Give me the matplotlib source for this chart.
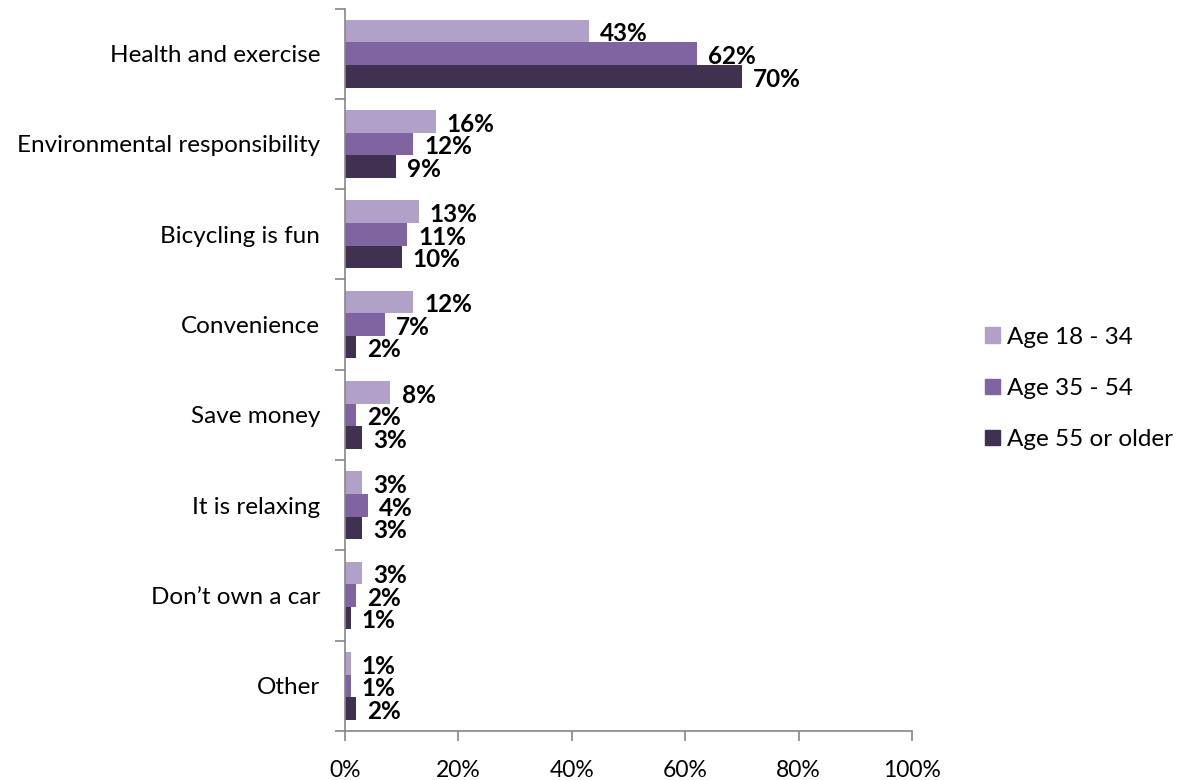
import matplotlib.pyplot as plt
from matplotlib.patches import Patch
from matplotlib.ticker import FixedLocator, PercentFormatter
import numpy as np

plt.rcParams['font.family'] = ['Lato', 'DejaVu Sans']

# reasons for bicycling, by age group (percent)
categories = ['Health and exercise', 'Environmental responsibility', 'Bicycling is fun',
              'Convenience', 'Save money', 'It is relaxing', 'Don\u2019t own a car', 'Other']
age_18_34 = [43, 16, 13, 12, 8, 3, 3, 1]
age_35_54 = [62, 12, 11, 7, 2, 4, 2, 1]
age_55_up = [70, 9, 10, 2, 3, 3, 1, 2]
series_names = ['Age 18 - 34', 'Age 35 - 54', 'Age 55 or older']
colors = ['#B1A0C7', '#8064A2', '#403151']

fig = plt.figure(figsize=(11.78, 7.80), dpi=100)
ax = fig.add_axes([0.2929, 0.0628, 0.7742 - 0.2929, 0.9891 - 0.0628])

n = len(categories)
pos = np.arange(n)
h = 0.25
for k, (vals, col) in enumerate(zip([age_18_34, age_35_54, age_55_up], colors)):
    ys = pos + (k - 1) * h
    ax.barh(ys, vals, height=h, color=col)
    for y, v in zip(ys, vals):
        ax.annotate(f'{v}%', (v, y), xytext=(8, -2), textcoords='offset points',
                    va='center', ha='left', fontsize=17.5, fontweight='bold', color='black')

ax.set_ylim(n - 0.5, -0.5)
ax.set_xlim(0, 100)
ax.xaxis.set_major_locator(FixedLocator([0, 20, 40, 60, 80, 100]))
ax.xaxis.set_major_formatter(PercentFormatter(decimals=0))

ax.set_yticks(pos)
ax.set_yticklabels(categories)
ax.yaxis.set_minor_locator(FixedLocator(np.arange(-0.5, n, 1)))
ax.tick_params(axis='y', which='major', length=0, pad=18, labelsize=17.5)
ax.tick_params(axis='y', which='minor', length=7, width=1.2, color='#868686')
ax.tick_params(axis='x', which='major', length=7, width=1.2, color='#868686',
               labelsize=16.5, pad=14)

for side in ['top', 'right']:
    ax.spines[side].set_visible(False)
for side in ['left', 'bottom']:
    ax.spines[side].set_color('#868686')
    ax.spines[side].set_linewidth(1.2)

handles = [Patch(color=c, label=s) for c, s in zip(colors, series_names)]
fig.legend(handles=handles, loc='center left', bbox_to_anchor=(0.818, 0.502),
           frameon=False, fontsize=17.5, handlelength=0.6, handleheight=0.6,
           handletextpad=0.3, labelspacing=1.25)

fig.savefig('out.png', dpi=100)
